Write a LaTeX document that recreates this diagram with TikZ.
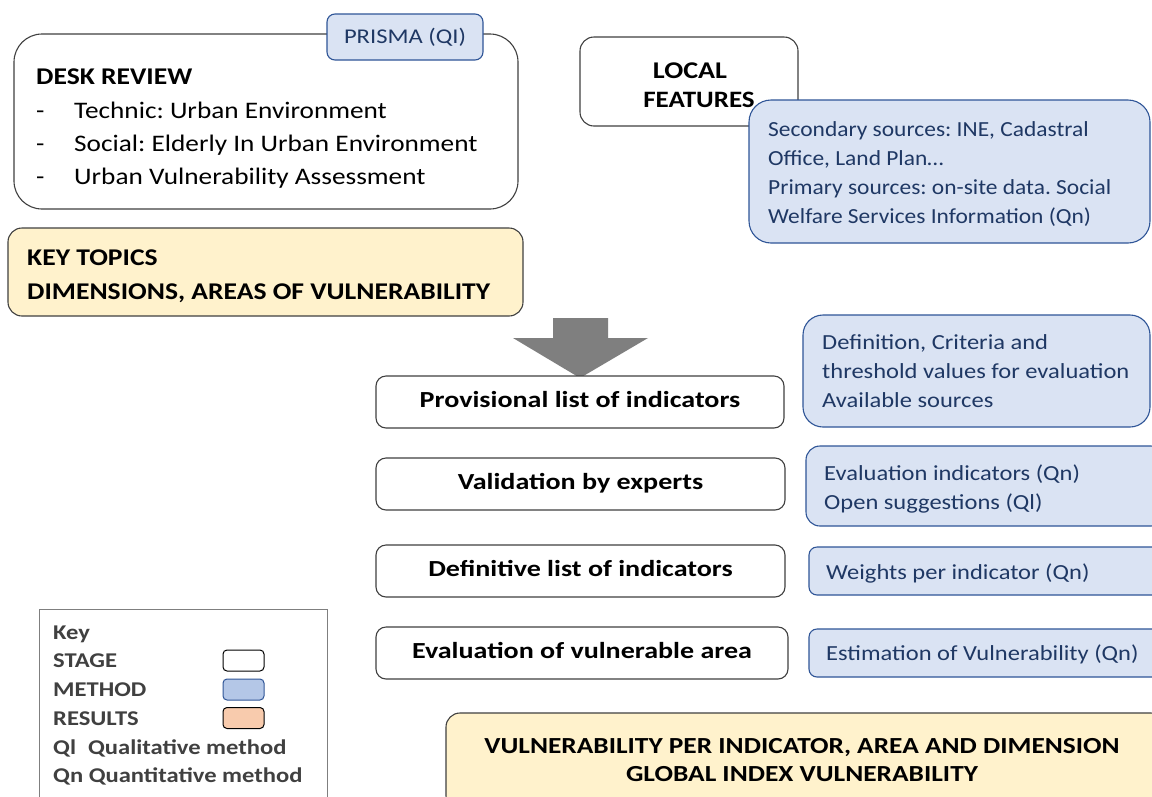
\documentclass[tikz,border=0pt]{standalone}
\usepackage{fontspec}
\setmainfont{Carlito}
\newfontfamily\fontDesk[FakeStretch=1.15]{Carlito}
\newfontfamily\fontSec[FakeStretch=1.09]{Carlito}
\newfontfamily\fontMeth[FakeStretch=1.14]{Carlito}
\newfontfamily\fontStage[FakeStretch=1.22]{Carlito}
\newfontfamily\fontRes[FakeStretch=1.19]{Carlito}
\newfontfamily\fontKey[FakeStretch=1.17]{Carlito}
\definecolor{stageline}{HTML}{404040}
\definecolor{methodline}{HTML}{2F5597}
\definecolor{methodfill}{HTML}{DAE3F3}
\definecolor{methodtext}{HTML}{1F3864}
\definecolor{resultfill}{HTML}{FFF2CC}
\definecolor{keyblue}{HTML}{B4C7E7}
\definecolor{keypeach}{HTML}{F8CBAD}
\definecolor{keytext}{HTML}{404040}
\definecolor{arrowgray}{HTML}{7F7F7F}
\tikzset{
  stagebox/.style={draw=stageline, line width=1.1pt, fill=white, rounded corners=10pt, inner sep=0pt},
  methodbox/.style={draw=methodline, line width=1.1pt, fill=methodfill, rounded corners=10pt, inner sep=0pt},
  resultbox/.style={draw=stageline, line width=1.1pt, fill=resultfill, rounded corners=13pt, inner sep=0pt},
  stagetxt/.style={font=\fontStage\fontsize{23}{26}\selectfont\bfseries, text height=15pt, text depth=5pt},
  bigtxt/.style={font=\fontDesk\fontsize{23.7}{33}\selectfont, inner sep=0pt, anchor=base west},
  sectxt/.style={font=\fontSec\fontsize{21.5}{29}\selectfont, text=methodtext, inner sep=0pt, anchor=base west},
  methtxt/.style={font=\fontMeth\fontsize{21.5}{29}\selectfont, text=methodtext, inner sep=0pt, anchor=base west},
  keytxt/.style={font=\fontKey\fontsize{21}{29}\selectfont\bfseries, text=keytext, inner sep=0pt, anchor=base west},
  swatch/.style={draw=black, line width=1pt, rounded corners=4pt, minimum width=41pt, minimum height=21pt, inner sep=0pt},
}
\begin{document}
\frenchspacing
\begin{tikzpicture}[x=1pt,y=-1pt]
\useasboundingbox (0,0) rectangle (1152,796);
\clip (0,0) rectangle (1152,796);
\fill[white] (0,0) rectangle (1152,796);

% Desk review
\node[stagebox, rounded corners=28pt, minimum width=504pt, minimum height=175pt] (desk) at (266,121.5) {};
\node[methodbox, rounded corners=8pt, minimum width=156pt, minimum height=46pt, font=\fontKey\fontsize{21}{24}\selectfont, text=methodtext] (prisma) at (405,37) {PRISMA (QI)};
\node[bigtxt, font=\fontDesk\fontsize{24}{33}\selectfont\bfseries] (deskT) at (36,84) {DESK REVIEW};
\node[bigtxt] (d1) at (36,118) {-};
\node[bigtxt] (t1) at (74,118) {Technic: Urban Environment};
\node[bigtxt] (d2) at (36,151) {-};
\node[bigtxt] (t2) at (74,151) {Social: Elderly In Urban Environment};
\node[bigtxt] (d3) at (36,184) {-};
\node[bigtxt] (t3) at (74,184) {Urban Vulnerability Assessment};

% Key topics
\node[resultbox, rounded corners=14pt, minimum width=515pt, minimum height=88pt] (key) at (265.5,272) {};
\node[bigtxt, font=\fontDesk\fontsize{24}{33}\selectfont\bfseries] (keyT1) at (27,265) {KEY TOPICS};
\node[bigtxt, font=\fontDesk\fontsize{24}{33}\selectfont\bfseries] (keyT2) at (27,299) {DIMENSIONS, AREAS OF VULNERABILITY};

% Local features
\node[stagebox, rounded corners=14pt, minimum width=218pt, minimum height=89pt] (local) at (689,81.5) {};
\node[font=\fontKey\fontsize{24}{29}\selectfont\bfseries, inner sep=0pt, anchor=base] (localT1) at (690,78) {LOCAL};
\node[font=\fontDesk\fontsize{23.5}{29}\selectfont\bfseries, inner sep=0pt, anchor=base] (localT2) at (699,107) {FEATURES};
\node[methodbox, rounded corners=22pt, minimum width=401pt, minimum height=143pt] (sec) at (949.5,171.5) {};
\node[sectxt] (s1) at (768,136) {Secondary sources: INE, Cadastral};
\node[sectxt] (s2) at (768,165) {Office, Land Plan\dots};
\node[sectxt] (s3) at (768,194) {Primary sources: on-site data. Social};
\node[sectxt] (s4) at (768,223) {Welfare Services Information (Qn)};

% Big arrow
\fill[arrowgray] (553,318) -- (608,318) -- (608,338) -- (648,338) -- (580,378) -- (513,338) -- (553,338) -- cycle;

% Stages
\node[stagebox, minimum width=408pt, minimum height=52pt, stagetxt] (prov) at (580,402) {Provisional list of indicators};
\node[stagebox, minimum width=409pt, minimum height=52pt, stagetxt] (valid) at (580.5,484) {Validation by experts};
\node[stagebox, minimum width=409pt, minimum height=52pt, stagetxt] (defin) at (580.5,571) {Definitive list of indicators};
\node[stagebox, minimum width=412pt, minimum height=52pt, stagetxt] (evalA) at (582,653) {Evaluation of vulnerable area};

% Methods
\node[methodbox, rounded corners=20pt, minimum width=347pt, minimum height=112pt] (defm) at (976.5,371) {};
\node[methtxt] (m1) at (822,349) {Definition, Criteria and};
\node[methtxt] (m2) at (822,378) {threshold values for evaluation};
\node[methtxt] (m3) at (822,407) {Available sources};
\node[methodbox, rounded corners=14pt, minimum width=359pt, minimum height=80pt] (evm) at (985.5,486) {};
\node[methtxt] (e1) at (824,480) {Evaluation indicators (Qn)};
\node[methtxt] (e2) at (824,509) {Open suggestions (Ql)};
\node[methodbox, rounded corners=8pt, minimum width=356pt, minimum height=48pt] (wm) at (987,571) {};
\node[methtxt] (w1) at (826,579) {Weights per indicator (Qn)};
\node[methodbox, rounded corners=8pt, minimum width=356pt, minimum height=48pt] (esm) at (987,653) {};
\node[methtxt] (es1) at (826,660) {Estimation of Vulnerability (Qn)};

% Results
\node[resultbox, rounded corners=14pt, minimum width=719pt, minimum height=97pt] (res) at (805.5,761.5) {};
\node[font=\fontRes\fontsize{23}{28}\selectfont\bfseries, inner sep=0pt, anchor=base] (r1) at (802,753) {VULNERABILITY PER INDICATOR, AREA AND DIMENSION};
\node[font=\fontRes\fontsize{23}{28}\selectfont\bfseries, inner sep=0pt, anchor=base] (r2) at (802,781) {GLOBAL INDEX VULNERABILITY};

% Key
\node[draw=arrowgray, line width=1pt, minimum width=288pt, minimum height=201pt, inner sep=0pt] (keybox) at (183,709.5) {};
\node[keytxt] (k0) at (53,639) {Key};
\node[keytxt] (k1) at (53,667) {STAGE};
\node[keytxt] (k2) at (53,696) {METHOD};
\node[keytxt] (k3) at (53,725) {RESULTS};
\node[keytxt] (k4) at (53,754) {Ql\hspace{12pt}Qualitative method};
\node[keytxt] (k5) at (53,782) {Qn Quantitative method};
\node[swatch, fill=white] (sw1) at (243.5,660.5) {};
\node[swatch, fill=keyblue, draw=methodline] (sw2) at (243.5,689.5) {};
\node[swatch, fill=keypeach] (sw3) at (243.5,718) {};
\end{tikzpicture}
\end{document}
